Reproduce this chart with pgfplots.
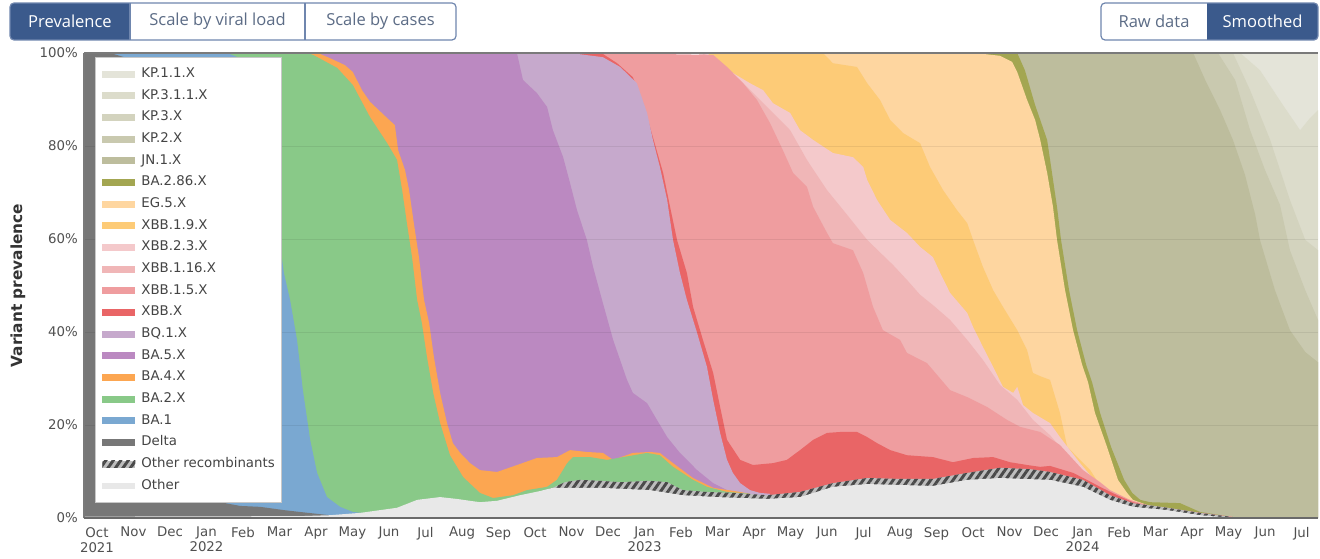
\documentclass[border=0pt]{standalone}
\usepackage{fontspec}
\setmainfont{DejaVu Sans}
\newfontfamily\btnfont{Open Sans}
\usepackage{pgfplots}
\pgfplotsset{compat=1.18}
\usetikzlibrary{patterns.meta}

\definecolor{kpa}{HTML}{E4E4D9}
\definecolor{kpb}{HTML}{DCDCCB}
\definecolor{kpc}{HTML}{D3D3BE}
\definecolor{kpd}{HTML}{C9C9AF}
\definecolor{jn}{HTML}{BDBD9D}
\definecolor{bat}{HTML}{A3A651}
\definecolor{egf}{HTML}{FED6A0}
\definecolor{xnine}{HTML}{FDCB77}
\definecolor{xtwo}{HTML}{F4C9CB}
\definecolor{xsix}{HTML}{F0B6B7}
\definecolor{xfive}{HTML}{EF9D9F}
\definecolor{xbb}{HTML}{E96566}
\definecolor{bq}{HTML}{C6A9CC}
\definecolor{bafive}{HTML}{BB89C1}
\definecolor{bafour}{HTML}{FCA651}
\definecolor{batwo}{HTML}{89C988}
\definecolor{baone}{HTML}{7AA8D1}
\definecolor{delta}{HTML}{777777}
\definecolor{other}{HTML}{E8E8E8}
\definecolor{hatchbg}{HTML}{BDBDBD}
\definecolor{hatchfg}{HTML}{4A4A4A}
\definecolor{btnblue}{HTML}{3B5A8C}
\definecolor{btnborder}{HTML}{6F86AE}
\definecolor{btntext}{HTML}{5C6C86}
\definecolor{tickcol}{HTML}{505050}
\definecolor{labcol}{HTML}{333333}
\definecolor{legtext}{HTML}{444444}
\definecolor{legborder}{HTML}{C8C8C8}
\definecolor{axbot}{HTML}{6A6A6A}
\definecolor{axside}{HTML}{7A7A7A}

\newcommand{\tickfont}{\fontsize{10}{11.25}\selectfont}
\newcommand{\legfont}{\fontsize{10}{12}\selectfont}
\newcommand{\bfont}{\btnfont\fontsize{12.4}{14}\selectfont}

\begin{document}
\begin{tikzpicture}
\begin{scope}[x=0.75pt,y=0.75pt]
\useasboundingbox (0,0) rectangle (1320,558);
% buttons, left group
\begin{scope}
\clip[rounded corners=3pt] (10,518) rectangle (456,555);
\fill[white] (10,518) rectangle (456,555);
\fill[btnblue] (10,518) rectangle (130,555);
\end{scope}
\draw[btnborder, line width=0.9pt, rounded corners=3pt] (10,518) rectangle (456,555);
\draw[btnborder, line width=0.9pt] (130,518) -- (130,555);
\draw[btnborder, line width=0.9pt] (305,518) -- (305,555);
\node[text=white, font=\bfont] at (70,536.5) {Prevalence};
\node[text=btntext, font=\bfont] at (217.5,536.5) {Scale by viral load};
\node[text=btntext, font=\bfont] at (380.5,536.5) {Scale by cases};
% buttons, right group
\begin{scope}
\clip[rounded corners=3pt] (1101,518) rectangle (1318,555);
\fill[white] (1101,518) rectangle (1318,555);
\fill[btnblue] (1207,518) rectangle (1318,555);
\end{scope}
\draw[btnborder, line width=0.9pt, rounded corners=3pt] (1101,518) rectangle (1318,555);
\node[text=btntext, font=\bfont] at (1154,536.5) {Raw data};
\node[text=white, font=\bfont] at (1262.5,536.5) {Smoothed};
\end{scope}

\begin{axis}[
  at={(63pt,30pt)}, anchor=south west,
  scale only axis, width=925.5pt, height=348.75pt,
  xmin=-0.356, xmax=33.45, ymin=0, ymax=100,
  axis line style={draw=none},
  tick style={draw=none},
  major tick length=0pt,
  xtick={0,1,...,33},
  xticklabels={{Oct\\2021},Nov,Dec,{Jan\\2022},Feb,Mar,Apr,May,Jun,Jul,Aug,Sep,Oct,Nov,Dec,{Jan\\2023},Feb,Mar,Apr,May,Jun,Jul,Aug,Sep,Oct,Nov,Dec,{Jan\\2024},Feb,Mar,Apr,May,Jun,Jul},
  xticklabel style={font=\tickfont, text=tickcol, align=center, anchor=north, inner sep=0pt, yshift=-6.75pt},
  ytick={0,20,40,60,80,100},
  yticklabels={0\%,20\%,40\%,60\%,80\%,100\%},
  yticklabel style={font=\tickfont, text=tickcol, anchor=east, inner sep=0pt, xshift=-4.5pt},
  ymajorgrids, grid style={black, opacity=0.07, line width=0.6pt},
  axis on top,
  ylabel={Variant prevalence},
  every axis y label/.style={at={(rel axis cs:0,0.5)}, xshift=-49.5pt, rotate=90, anchor=center, font=\bfseries\fontsize{11.5}{13}\selectfont, text=labcol},
  legend image code/.code={\fill[#1] (0pt,-2.6pt) rectangle (24.75pt,2.6pt);},
  legend cell align=left,
  legend style={at={(0.0089,0.9914)}, anchor=north west, draw=legborder, line width=0.6pt, fill=white, inner xsep=5.25pt, inner ysep=8pt, row sep=7.26pt, column sep=4.5pt, font=\legfont, text=legtext, nodes={inner sep=0pt, text height=7pt, text depth=2pt}},
]

\addplot[fill=kpa, draw=none] coordinates {(30.9,100) (33.45,100)} \closedcycle;
\addlegendentry{KP.1.1.X}
\addplot[fill=kpb, draw=none] coordinates {(30.6,100) (31.32,100) (31.86,96.3) (32.49,88.8) (32.96,83.4) (33.23,86.0) (33.45,87.7)} \closedcycle;
\addlegendentry{KP.3.1.1.X}
\addplot[fill=kpc, draw=none] coordinates {(30.4,100) (31.12,100) (31.59,92.0) (32.14,81.3) (32.68,68.4) (33.10,59.8) (33.45,57.6)} \closedcycle;
\addlegendentry{KP.3.X}
\addplot[fill=kpd, draw=none] coordinates {(29.8,100) (30.71,100) (31.18,94.2) (31.59,83.4) (32.00,74.8) (32.41,67.3) (32.68,57.6) (33.10,49.0) (33.45,42.6)} \closedcycle;
\addlegendentry{KP.2.X}
\addplot[fill=jn, draw=none] coordinates {(25.15,100) (30.03,100) (30.36,94.2) (30.77,87.7) (31.12,81.3) (31.45,73.8) (31.73,65.2) (31.86,59.8) (32.27,49.0) (32.68,40.4) (33.10,35.7) (33.45,33.5)} \closedcycle;
\addlegendentry{JN.1.X}
\addplot[fill=bat, draw=none] coordinates {(24.05,100) (25.21,100) (25.42,96.3) (25.70,88.8) (26.03,81.3) (26.30,66.9) (26.41,59.8) (26.63,49.0) (26.85,40.4) (27.10,32.9) (27.26,29.2) (27.48,22.6) (27.78,15.3) (28.14,8.2) (28.36,5.4) (28.58,3.9) (28.85,3.4) (29.67,3.2) (30.22,1.3) (31.12,0.2) (31.86,0)} \closedcycle;
\addlegendentry{BA.2.86.X}
\addplot[fill=egf, draw=none] coordinates {(19.8,100) (24.05,100) (24.74,99.4) (25.07,98.1) (25.21,95.9) (25.48,89.9) (25.70,85.6) (25.84,81.3) (26.03,74.2) (26.19,66.9) (26.30,59.8) (26.52,49.0) (26.74,40.4) (26.99,32.9) (27.15,29.2) (27.34,22.6) (27.67,15.3) (27.97,8.2) (28.22,5.4) (28.38,3.9) (28.77,2.8) (29.32,2.2) (30.22,1.1) (31.12,0.2)} \closedcycle;
\addlegendentry{EG.5.X}
\addplot[fill=xnine, draw=none] coordinates {(16.5,100) (19.89,100) (20.16,97.8) (20.82,97.0) (21.10,93.5) (21.45,89.9) (21.73,85.6) (22.08,82.8) (22.55,80.6) (22.82,75.5) (23.18,70.5) (23.56,66.2) (23.84,63.4) (24.00,59.8) (24.27,54.0) (24.55,49.0) (24.82,45.4) (25.21,40.4) (25.48,36.1) (25.64,31.2) (25.84,30.5) (26.11,29.7) (26.38,22.6) (26.58,15.3) (26.93,12.5) (27.21,10.3) (27.48,7.0) (27.75,4.3) (28.03,3.4) (28.58,2.6) (29.32,1.9) (30.22,1.0) (31.12,0.2)} \closedcycle;
\addlegendentry{XBB.1.9.X}
\addplot[fill=xtwo, draw=none] coordinates {(16.5,100) (16.71,100) (16.99,98.1) (17.42,95.7) (17.89,93.5) (18.25,92.0) (18.52,89.2) (18.99,87.1) (19.26,83.4) (19.62,81.3) (20.16,78.5) (20.71,77.6) (20.99,75.5) (21.10,72.7) (21.37,68.4) (21.73,64.1) (22.19,61.3) (22.55,58.3) (22.90,56.1) (23.10,52.7) (23.37,48.4) (23.84,44.1) (24.00,41.1) (24.27,36.8) (24.55,32.5) (24.82,28.2) (25.10,26.9) (25.21,28.2) (25.37,24.3) (25.64,22.6) (26.11,20.4) (26.38,17.4) (26.93,11.8) (27.21,9.2) (27.48,6.0) (28.03,3.2) (28.85,2.4) (30.22,0.9) (31.12,0.2)} \closedcycle;
\addlegendentry{XBB.2.3.X}
\addplot[fill=xsix, draw=none] coordinates {(16.6,100) (16.66,99.6) (17.62,94.2) (18.36,88.4) (18.99,83.4) (19.45,77.0) (20.00,70.5) (20.55,65.2) (21.10,59.8) (21.81,54.4) (22.19,51.2) (22.55,48.0) (22.90,45.8) (23.37,42.6) (23.84,38.3) (24.27,34.0) (24.74,28.6) (25.21,25.4) (25.64,21.1) (26.11,17.8) (26.58,13.5) (27.01,10.3) (27.48,6.5) (28.03,3.2) (28.85,2.4) (30.22,0.9) (31.12,0.2)} \closedcycle;
\addlegendentry{XBB.1.16.X}
\addplot[fill=xfive, draw=none] coordinates {(13.78,100) (16.88,99.6) (17.26,97.0) (17.70,93.5) (18.08,89.9) (18.44,84.9) (18.79,79.1) (19.07,74.2) (19.45,71.2) (19.62,66.9) (20.00,61.3) (20.16,59.1) (20.71,57.6) (20.99,52.7) (21.26,45.4) (21.53,40.4) (22.00,38.3) (22.19,35.5) (22.74,33.3) (23.37,27.5) (23.84,26.0) (24.38,23.9) (24.93,21.1) (25.29,19.6) (25.84,18.5) (26.38,15.7) (27.01,10.3) (27.48,7.7) (27.75,6.0) (28.30,3.9) (28.85,2.6) (30.22,1.1) (31.12,0.2)} \closedcycle;
\addlegendentry{XBB.1.5.X}
\addplot[fill=xbb, draw=none] coordinates {(12.96,100) (13.86,99.8) (14.25,97.8) (14.68,94.8) (14.96,89.2) (15.23,81.9) (15.51,74.2) (15.70,66.9) (15.89,59.8) (16.16,52.7) (16.33,45.4) (16.60,38.3) (16.88,31.2) (17.07,23.9) (17.26,16.8) (17.62,12.5) (17.97,11.4) (18.52,11.8) (18.90,12.5) (19.26,14.6) (19.62,16.8) (20.00,18.3) (20.36,18.5) (20.82,18.5) (21.10,17.4) (21.37,16.1) (21.73,14.6) (22.19,13.5) (22.90,13.1) (23.45,12.0) (24.00,12.9) (24.55,13.1) (25.01,12.0) (25.48,11.4) (25.84,11.0) (26.11,11.2) (26.74,9.7) (27.12,8.2) (27.48,6.7) (27.95,4.9) (28.38,3.4) (28.85,2.6) (30.22,1.1) (31.12,0.2)} \closedcycle;
\addlegendentry{XBB.X}
\addplot[fill=bq, draw=none] coordinates {(11.45,100) (12.96,100) (13.86,99.1) (14.33,97.0) (14.79,93.5) (15.07,87.1) (15.23,81.3) (15.42,75.5) (15.62,68.4) (15.78,59.8) (15.97,52.7) (16.16,46.9) (16.44,39.8) (16.71,32.5) (16.88,25.4) (17.07,18.3) (17.26,12.5) (17.42,9.7) (17.62,7.5) (17.89,6.0) (18.16,5.4) (18.44,5.2)} \closedcycle;
\addlegendentry{BQ.1.X}
\addplot[fill=bafive, draw=none] coordinates {(6.05,100) (11.51,99.8) (11.67,94.2) (12.05,91.4) (12.33,88.4) (12.49,83.4) (12.77,77.6) (12.96,72.0) (13.15,66.2) (13.42,59.8) (13.59,54.0) (13.86,46.2) (14.14,38.3) (14.33,34.0) (14.52,29.7) (14.68,26.9) (15.07,24.7) (15.34,21.1) (15.62,17.4) (15.97,14.0) (16.44,10.3) (16.88,7.5) (17.26,6.0) (17.62,5.4) (17.89,5.2)} \closedcycle;
\addlegendentry{BA.5.X}
\addplot[fill=bafour, draw=none] coordinates {(5.84,100) (6.05,100) (6.38,98.9) (6.79,97.4) (7.01,95.9) (7.26,92.0) (7.48,89.5) (7.95,86.0) (8.16,84.5) (8.25,79.1) (8.44,74.8) (8.55,70.5) (8.68,63.4) (8.82,56.1) (8.96,46.9) (9.10,41.9) (9.23,34.6) (9.40,26.9) (9.59,20.4) (9.75,16.1) (9.95,14.0) (10.22,11.8) (10.49,10.3) (10.96,9.9) (11.51,11.4) (12.05,12.9) (12.60,13.1) (12.96,14.6) (13.42,14.2) (13.86,14.0) (14.14,12.5) (14.68,14.0) (15.15,14.2) (15.42,14.0) (15.78,11.8) (16.33,8.6) (16.88,6.5) (17.62,5.6) (17.89,5.2)} \closedcycle;
\addlegendentry{BA.4.X}
\addplot[fill=batwo, draw=none] coordinates {(3.56,100) (5.84,99.8) (5.92,99.6) (6.58,96.8) (7.01,93.1) (7.48,86.2) (7.95,80.6) (8.22,77.0) (8.36,70.5) (8.49,63.4) (8.63,56.1) (8.77,46.9) (8.90,41.9) (9.04,34.6) (9.21,26.9) (9.40,20.4) (9.67,13.5) (10.03,8.8) (10.49,5.4) (10.85,4.3) (11.40,4.9) (11.78,6.0) (12.33,6.7) (12.60,8.2) (12.88,11.8) (13.04,13.1) (13.51,13.1) (13.97,12.5) (14.41,13.1) (15.07,14.0) (15.42,13.5) (15.78,11.0) (16.33,8.2) (16.71,6.7) (17.26,5.6) (17.62,5.4) (17.89,5.2)} \closedcycle;
\addlegendentry{BA.2.X}
\addplot[fill=baone, draw=none] coordinates {(0.36,100) (3.56,100) (3.92,98.9) (4.33,92.0) (4.74,74.8) (5.12,52.7) (5.29,46.9) (5.48,38.3) (5.64,27.5) (5.84,16.8) (6.03,9.7) (6.30,4.5) (6.66,2.4) (7.01,1.3) (7.48,0.9) (8.30,0.6)} \closedcycle;
\addlegendentry{BA.1}
\addplot[fill=delta, draw=none] coordinates {(-0.36,100) (0.36,100) (1.18,98.1) (1.73,92.0) (2.14,79.1) (2.55,40.4) (2.82,12.5) (3.10,4.9) (3.51,3.2) (3.92,2.6) (4.47,2.4) (5.12,1.7) (5.56,1.3) (6.38,0.6) (6.93,0.4) (7.21,0.3)} \closedcycle;
\addlegendentry{Delta}
\addplot[fill=hatchbg, draw=none, postaction={pattern={Lines[angle=55,distance=4.6pt,line width=2.2pt]}, pattern color=hatchfg}] coordinates {(12.14,5.6) (12.49,6.5) (12.82,7.7) (13.23,8.2) (13.78,8.0) (14.33,7.7) (15.15,8.0) (15.62,7.7) (16.05,6.0) (16.71,5.6) (17.42,5.4) (18.36,4.9) (19.26,5.6) (20.16,7.5) (21.10,8.6) (22.00,8.4) (22.90,8.4) (23.84,9.7) (24.74,10.8) (25.56,10.5) (26.11,9.9) (27.01,8.2) (27.75,4.9) (28.38,3.2) (29.32,2.2) (30.22,1.1) (31.12,0.2)} \closedcycle;
\addlegendentry{Other recombinants}
\addplot[fill=other, draw=none] coordinates {(-0.36,0.3) (5.56,0.4) (6.38,0.6) (7.21,1.1) (8.22,2.2) (8.77,3.9) (9.40,4.5) (9.86,4.1) (10.49,3.4) (10.96,3.7) (11.59,4.9) (12.14,5.8) (12.49,6.5) (13.04,6.5) (13.78,6.5) (15.15,6.0) (16.05,4.9) (16.99,4.5) (18.36,4.1) (19.26,4.5) (20.16,6.7) (21.10,7.3) (22.90,6.9) (23.84,8.2) (24.74,8.6) (26.11,8.2) (27.01,6.7) (27.75,3.9) (28.38,2.4) (29.32,1.7) (30.22,0.6) (31.12,0) (33.45,0)} \closedcycle;
\addlegendentry{Other}
\end{axis}

\begin{scope}[x=0.75pt,y=0.75pt]
\draw[axside, line width=1.1pt] (84,505) -- (1318,505);
\draw[axside, line width=1.3pt] (84,40) -- (84,505);
\draw[axbot, line width=1.6pt] (84,40) -- (1318,40);
\end{scope}
\end{tikzpicture}
\end{document}
